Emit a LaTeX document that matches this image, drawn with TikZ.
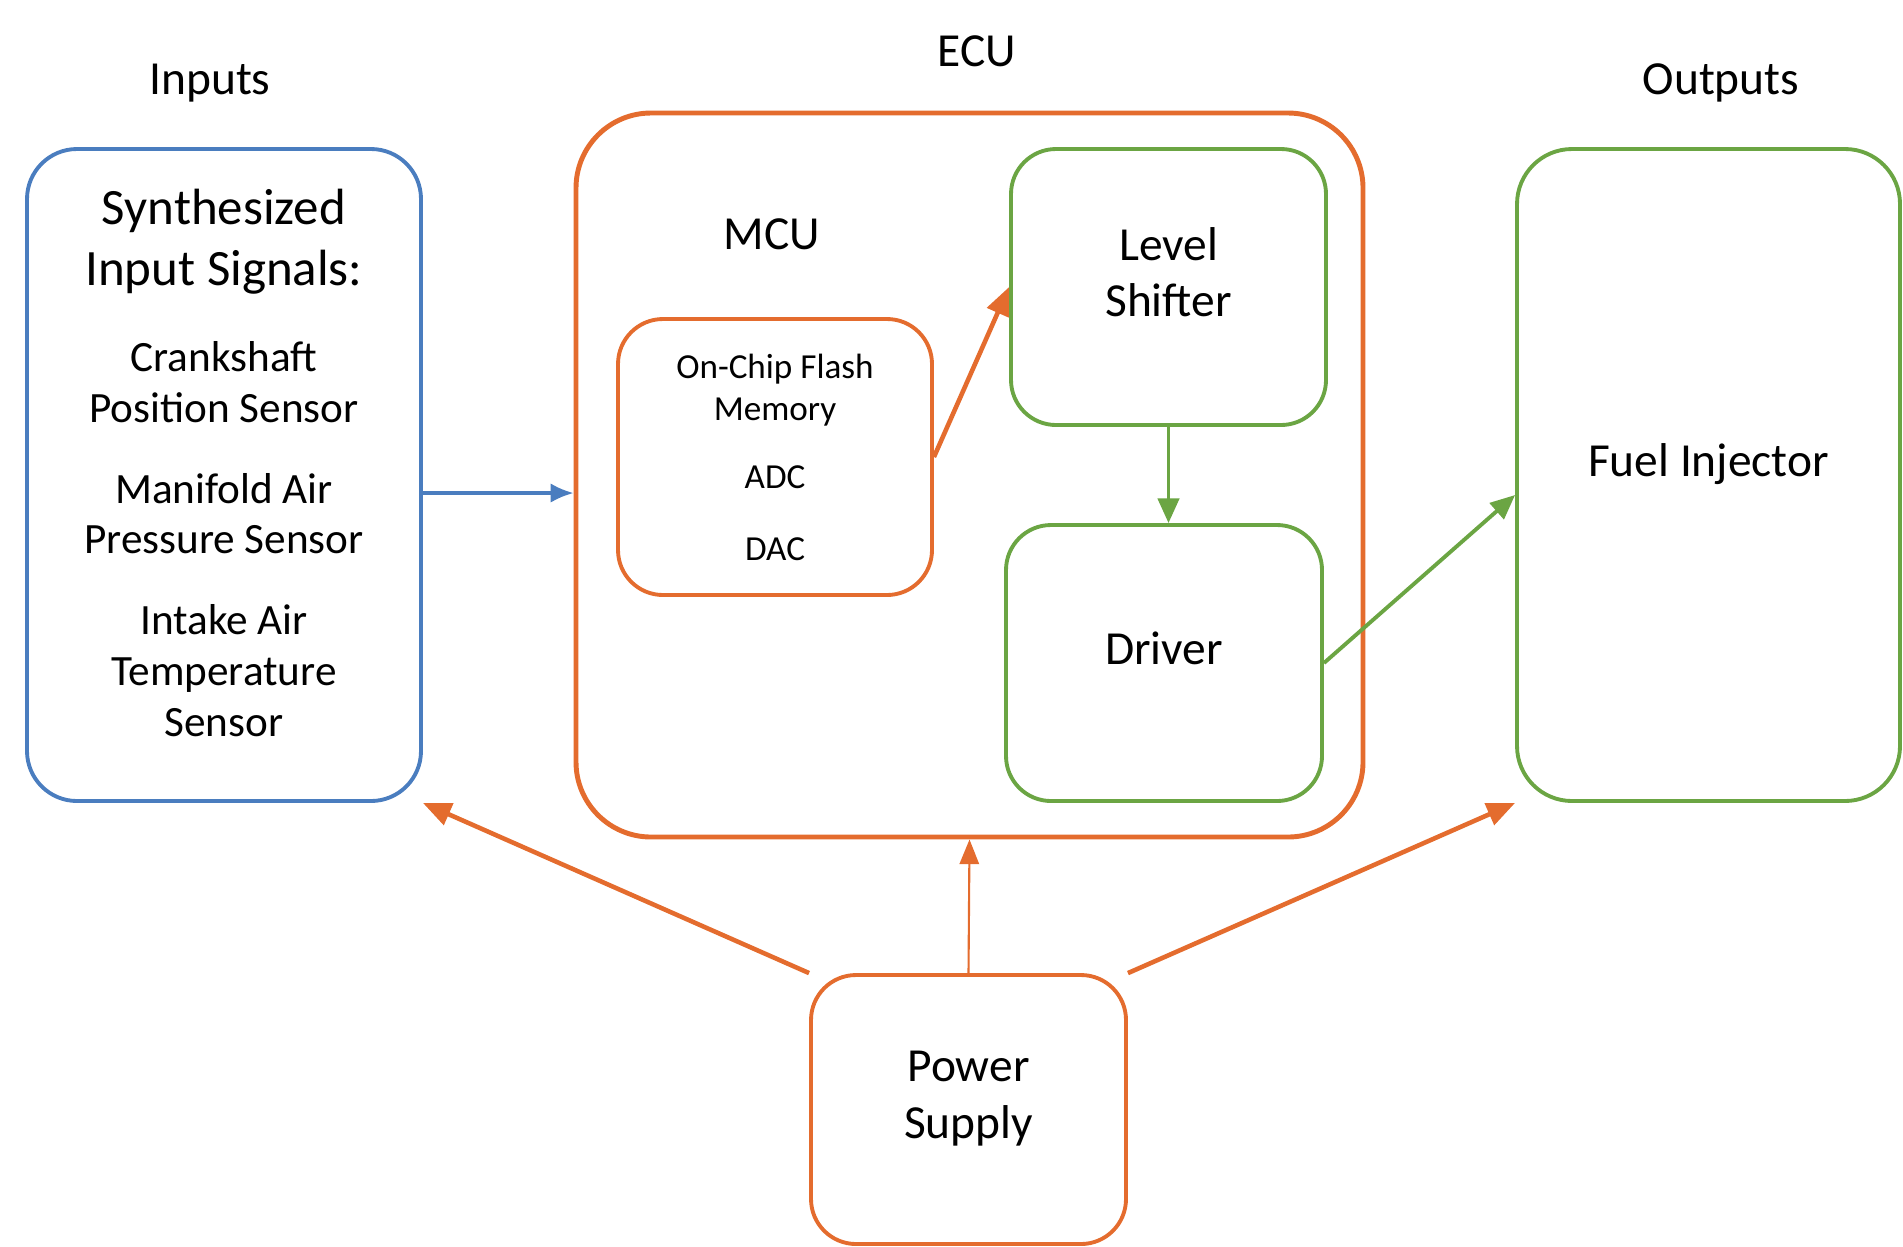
\documentclass[tikz,border=0pt]{standalone}
\usepackage{fontspec}
\setmainfont{Carlito}
\usetikzlibrary{arrows.meta,positioning,calc}
\definecolor{inblue}{HTML}{4A7DBF}
\definecolor{ecuorange}{HTML}{E46C2E}
\definecolor{outgreen}{HTML}{6BA543}
\newcommand{\fsz}[2]{\fontsize{#1}{#2}\selectfont}
% extra depth below the last line, pushes the text a bit up in its box
\newcommand{\lift}[1][0.3cm]{\rule[-#1]{0pt}{#1}}
\tikzset{
  box/.style={draw, fill=white, align=center, inner sep=4pt, line width=1.1pt,
              rounded corners=0.45cm, font=\fsz{13.5}{16.2}},
  bluebox/.style={box, draw=inblue},
  orangebox/.style={box, draw=ecuorange},
  greenbox/.style={box, draw=outgreen},
  lbl/.style={font=\fsz{13.5}{16.2}},
  arblue/.style={-{Latex[length=6.5pt,width=5.5pt]}, line width=0.9pt, draw=inblue},
  arorange/.style={-{Triangle[length=8pt,width=6.5pt]}, line width=1.3pt, draw=ecuorange},
  arthin/.style={-{Triangle[length=7pt,width=5.5pt]}, line width=0.6pt, draw=ecuorange},
  argreen/.style={-{Triangle[length=7pt,width=6pt]}, line width=1.1pt, draw=outgreen}
}

\begin{document}
\begin{tikzpicture}
  \useasboundingbox (0,0) rectangle (19.03,-12.46);

  \node[lbl] (intitle) at (2.10,-0.83) {Inputs};
  \node[lbl] (ecutitle) at (9.77,-0.51) {ECU};
  \node[lbl] (outtitle) at (17.21,-0.83) {Outputs};

  \node[bluebox, minimum width=3.94cm, minimum height=6.52cm, rounded corners=0.5cm, font=\fsz{12.3}{14.5}] (inputs) at (2.24,-4.75)
     {\fsz{14.5}{17}Synthesized\\[2.7pt]\fsz{14.5}{17}Input Signals:\\[10pt]
      Crankshaft\\Position Sensor\\[8.5pt]
      Manifold Air\\Pressure Sensor\\[8.5pt]
      Intake Air\\Temperature\\Sensor\lift[0.24cm]};

  \node[orangebox, minimum width=7.87cm, minimum height=7.24cm, rounded corners=0.75cm, line width=1.4pt] (ecu) at (9.695,-4.75) {};
  \node[lbl] (mcu) at (7.72,-2.34) {MCU};
  \node[orangebox, minimum width=3.14cm, minimum height=2.76cm, font=\fsz{10}{12}] (flash) at (7.75,-4.57)
     {On-Chip Flash\\Memory\\[7.5pt]ADC\\[8.3pt]DAC};
  \node[greenbox, minimum width=3.15cm, minimum height=2.76cm] (level) at (11.685,-2.87) {Level\\Shifter\lift};
  \node[greenbox, minimum width=3.16cm, minimum height=2.76cm] (driver) at (11.64,-6.63) {Driver\lift};

  \node[greenbox, minimum width=3.83cm, minimum height=6.52cm, rounded corners=0.55cm] (fuel) at (17.085,-4.75) {Fuel Injector\lift};

  \node[orangebox, minimum width=3.15cm, minimum height=2.69cm] (power) at (9.685,-11.095) {Power\\Supply\lift};

  \draw[arblue] ([yshift=-0.18cm]inputs.east) -- ([yshift=-0.18cm]inputs.east -| ecu.west);
  \draw[arorange] (flash.east) -- (level.west);
  \draw[argreen] (level.south) -- (level.south |- driver.north);
  \draw[argreen] (driver.east) -- ([yshift=-0.2cm]fuel.west);

  \draw[arorange] (power.north west) -- (inputs.south east);
  \draw[arthin] (power.north) -- (ecu.south);
  \draw[arorange] (power.north east) -- (fuel.south west);
\end{tikzpicture}
\end{document}
